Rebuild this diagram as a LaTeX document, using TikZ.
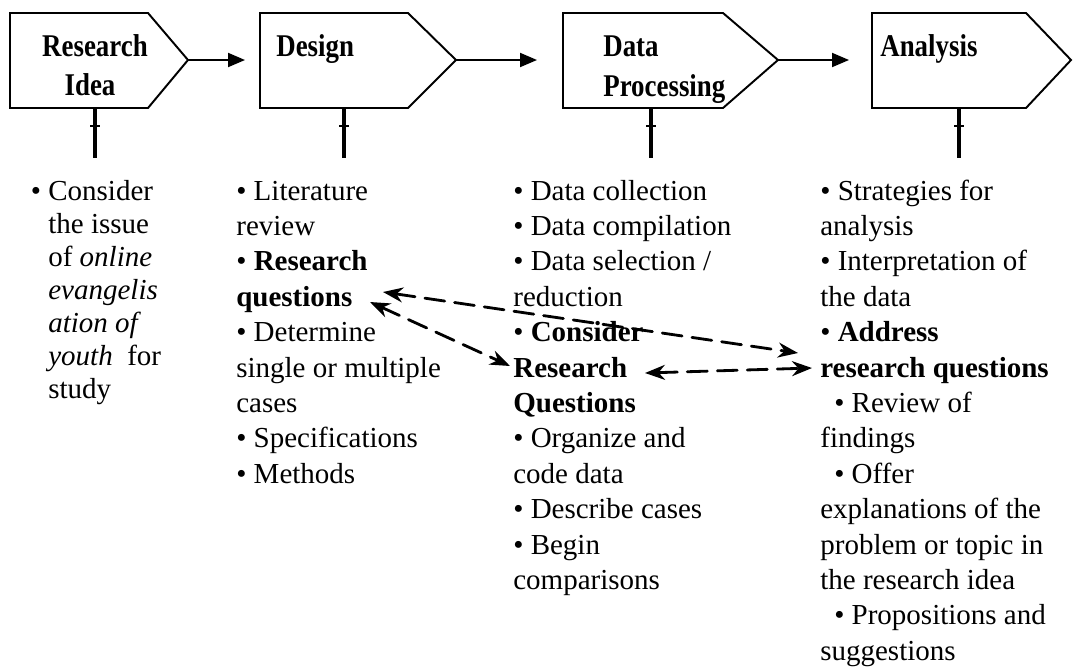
\documentclass[tikz,border=0pt]{standalone}
\usepackage{fontspec}
\setmainfont{Liberation Serif}
\newfontfamily\headfont[FakeStretch=0.85]{Liberation Serif}
\usetikzlibrary{arrows.meta}

\begin{document}
\begin{tikzpicture}[x=0.02cm, y=-0.02cm, line join=round, line cap=round]
  \tikzset{
    every node/.style={inner sep=0pt, font=\fontsize{16.5}{20}\selectfont},
    head/.style={font=\headfont\fontsize{18}{22}\selectfont\bfseries},
    box/.style={line width=1.1pt, line join=miter},
    stem/.style={line width=2.4pt, line cap=butt},
    flow/.style={line width=1.1pt, -{Triangle[length=3.4mm,width=2.8mm]}},
    link/.style={line width=1.6pt, dash pattern=on 4mm off 2mm,
      {Stealth[length=4mm,width=3mm]}-{Stealth[length=4mm,width=3mm]}}
  }
  \useasboundingbox (0,0) rectangle (1074,670);
  % stage boxes
  \foreach \n/\l/\r/\t/\s in {1/10/148/188/95, 2/260/408/456/344, 3/563/723/778/651, 4/872/1026/1071/959}{
    \draw[box] (\l,13) -- (\r,13) -- (\t,60) -- (\r,108) -- (\l,108) -- cycle;
    \coordinate (b\n w) at (\l,60);
    \coordinate (b\n e) at (\t,60);
    \coordinate (b\n s) at (\s,108);
    \coordinate (b\n f) at (\s,158);
    \draw[stem] (b\n s) -- (b\n f);
    \draw[line width=1pt, line cap=butt] ({\s-5},126) -- ({\s+5},126);
  }
  \node[head, anchor=base] (h1) at (95,56) {Research};
  \node[head, anchor=base] (h1b) at (90,95) {Idea};
  \node[head, anchor=base west] (h2) at (276,56) {Design};
  \node[head, anchor=base west] (h3) at (603,56) {Data};
  \node[head, anchor=base west] (h3b) at (603,96) {Processing};
  \node[head, anchor=base west] (h4) at (880,56) {Analysis};
  \draw[flow, shorten >=0.3cm] (b1e) -- (b2w);
  \draw[flow, shorten >=0.52cm] (b2e) -- (b3w);
  \draw[flow, shorten >=0.46cm] (b3e) -- (b4w);
  % lists under the boxes
  \foreach \t [count=\k from 0] in {{\llap{\textbullet\ }Consider}, {the issue}, {of \textit{online}},
      {\textit{evangelis}}, {\textit{ation of}}, {\textit{youth}\ \ for}, {study}}
    \node[anchor=base west] (c1-\k) at (48,{200+33*\k}) {\t};
  \foreach \t [count=\k from 0] in {{\textbullet\ Literature}, {review}, {\textbullet\ \textbf{Research}},
      {\textbf{questions}}, {\textbullet\ Determine}, {single or multiple}, {cases},
      {\textbullet\ Specifications}, {\textbullet\ Methods}}
    \node[anchor=base west] (c2-\k) at (236,{200+35.4*\k}) {\t};
  \foreach \t [count=\k from 0] in {{\textbullet\ Data collection}, {\textbullet\ Data compilation},
      {\textbullet\ Data selection /}, {reduction}, {\textbullet\ \textbf{Consider}}, {\textbf{Research}},
      {\textbf{Questions}}, {\textbullet\ Organize and}, {code data}, {\textbullet\ Describe cases},
      {\textbullet\ Begin}, {comparisons}}
    \node[anchor=base west] (c3-\k) at (513,{200+35.4*\k}) {\t};
  \foreach \t [count=\k from 0] in {{\textbullet\ Strategies for}, {analysis}, {\textbullet\ Interpretation of},
      {the data}, {\textbullet\ \textbf{Address}}, {\textbf{research questions}},
      {\hspace{0.28cm}\textbullet\ Review of}, {findings}, {\hspace{0.28cm}\textbullet\ Offer},
      {explanations of the}, {problem or topic in}, {the research idea},
      {\hspace{0.28cm}\textbullet\ Propositions and}, {suggestions}}
    \node[anchor=base west] (c4-\k) at (820,{200+35.4*\k}) {\t};
  % links between the research questions
  \coordinate (qa) at (383,292);
  \coordinate (qb) at (370,302);
  \coordinate (ra) at (798,353);
  \coordinate (rb) at (510,366);
  \coordinate (rc) at (645,373);
  \coordinate (rd) at (812,368);
  \draw[link] (qa) -- (ra);
  \draw[link] (qb) -- (rb);
  \draw[link] (rc) -- (rd);
\end{tikzpicture}
\end{document}
